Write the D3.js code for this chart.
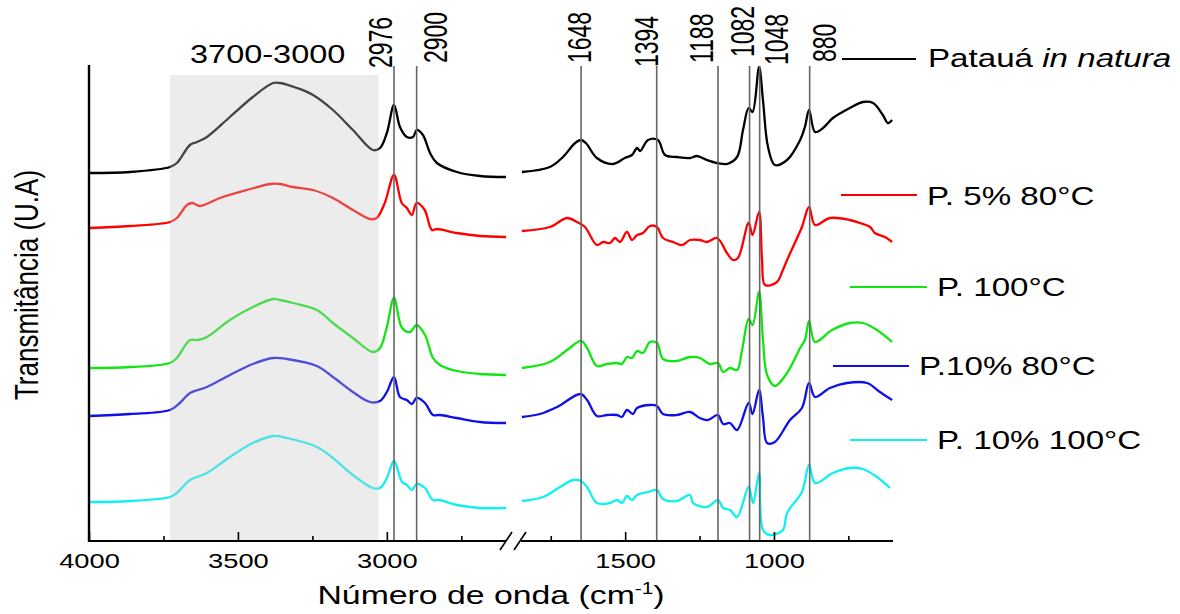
<!DOCTYPE html>
<html>
<head>
<meta charset="utf-8">
<script src="https://cdn.jsdelivr.net/npm/d3@7"></script>
<style>
body { margin: 0; background: #fff; }
text { font-family: "Liberation Sans", Arial, sans-serif; fill: #000; }
</style>
</head>
<body>
<svg id="ftir_svg"></svg>
<script>

// wavenumbers (cm-1) of the marked bands
var peaks = [2976, 2900, 1648, 1394, 1188, 1082, 1048, 880];
var oh_band = [3728, 3028];
var oh_band_label = '3700-3000';

var series_names = ['Patauá', 'P. 5% 80°C', 'P. 100°C', 'P.10% 80°C', 'P. 10% 100°C'];
var series_colors = ['#000000', '#ff0000', '#12e612', '#1010e6', '#10f0f0'];

var ticks_left = [4000, 3500, 3000];
var minor_left = [3750, 3250, 2750];
var ticks_right = [1500, 1000];
var minor_right = [1750, 1250, 750];

// [wavenumber, transmittance (arbitrary units, stacked)]
var pataua = [
  [4000,368],[3862,369],[3728,374],[3705,378],[3661,396],[3637,399],[3604,404],[3527,424],[3450,444],[3382,458],
  [3359,458],[3302,453],[3248,446],[3181,431],[3114,411],[3047,391],[3023,393],[3000,408],[2976,436],[2956,414],
  [2933,404],[2912,404],[2900,411],[2879,406],[2855,388],[2832,378],[2765,369],[2687,365],[2600,364],
  [1847,369],[1753,374],[1709,384],[1668,398],[1648,401],[1632,398],[1595,383],[1541,377],[1501,383],[1477,386],
  [1460,393],[1450,390],[1423,401],[1390,401],[1366,386],[1326,384],[1282,383],[1259,385],[1225,381],[1191,378],
  [1158,377],[1124,384],[1104,411],[1085,433],[1072,429],[1050,474],[1037,441],[1020,394],[997,376],[956,381],
  [912,401],[896,414],[882,431],[862,409],[835,413],[802,423],[745,433],[701,439],[667,438],[634,426],[617,418],[603,421]
];
var p5_80 = [
  [4000,313],[3862,315],[3728,319],[3705,323],[3671,336],[3654,338],[3627,335],[3560,343],[3470,351],[3392,357],
  [3359,357],[3315,354],[3248,351],[3181,343],[3114,331],[3057,322],[3034,323],[3007,338],[2976,366],[2950,338],
  [2933,333],[2916,326],[2900,338],[2873,331],[2849,311],[2832,312],[2765,308],[2687,305],[2600,304],
  [1847,310],[1753,314],[1695,323],[1662,319],[1635,314],[1595,296],[1574,299],[1551,298],[1534,303],[1517,299],
  [1494,309],[1477,301],[1460,306],[1440,308],[1417,315],[1393,314],[1373,303],[1339,299],[1309,296],[1282,301],
  [1249,301],[1225,299],[1191,303],[1158,288],[1138,281],[1121,283],[1085,318],[1072,306],[1050,329],[1040,281],
  [1030,256],[990,259],[970,271],[956,281],[936,294],[906,314],[882,334],[862,316],[812,323],[745,321],
  [711,318],[677,314],[661,308],[627,304],[603,299]
];
var p_100 = [
  [4000,173],[3862,174],[3728,178],[3705,183],[3661,201],[3634,201],[3604,204],[3527,221],[3450,234],[3382,242],
  [3359,241],[3315,238],[3235,231],[3181,218],[3114,203],[3047,189],[3023,193],[3000,214],[2976,243],[2949,213],
  [2922,209],[2900,216],[2872,206],[2845,183],[2822,176],[2765,170],[2687,167],[2600,166],
  [1847,173],[1753,179],[1695,191],[1648,200],[1628,193],[1595,175],[1561,177],[1527,178],[1511,177],[1494,184],
  [1477,183],[1460,190],[1440,188],[1417,199],[1393,198],[1373,182],[1326,180],[1282,184],[1249,183],[1215,177],
  [1188,178],[1171,169],[1148,173],[1124,171],[1107,191],[1085,222],[1072,216],[1050,249],[1037,201],[1023,166],
  [997,155],[956,168],[912,193],[896,201],[882,220],[862,199],[805,211],[745,218],[701,218],[654,211],[603,199]
];
var p10_80 = [
  [4000,125],[3862,127],[3728,131],[3695,138],[3661,148],[3604,154],[3527,166],[3450,177],[3382,183],[3335,182],
  [3235,175],[3181,164],[3114,149],[3057,139],[3023,140],[3000,149],[2976,164],[2956,144],[2933,141],[2916,137],
  [2900,143],[2872,138],[2845,126],[2822,126],[2765,123],[2687,119],[2600,118],
  [1847,124],[1786,127],[1729,134],[1650,147],[1628,141],[1595,125],[1561,126],[1527,126],[1511,124],[1494,131],
  [1474,127],[1460,133],[1417,136],[1393,135],[1373,127],[1326,126],[1282,129],[1249,123],[1222,121],[1188,126],
  [1171,117],[1148,118],[1124,111],[1085,138],[1072,127],[1050,151],[1037,124],[1023,98],[997,99],[946,121],
  [906,133],[882,158],[862,144],[812,153],[755,158],[687,158],[644,149],[603,141]
];
var p10_100 = [
  [4000,39],[3862,40],[3728,44],[3705,48],[3661,61],[3604,68],[3527,84],[3450,98],[3382,105],[3335,103],
  [3235,94],[3181,83],[3114,66],[3047,53],[3023,53],[3000,63],[2976,80],[2949,59],[2933,56],[2916,51],
  [2900,57],[2872,53],[2845,41],[2822,41],[2765,36],[2687,33],[2600,33],
  [1847,40],[1776,44],[1719,54],[1675,61],[1648,60],[1628,54],[1595,38],[1551,38],[1527,41],[1511,38],
  [1494,45],[1477,41],[1460,46],[1423,49],[1393,51],[1373,42],[1326,40],[1282,46],[1272,38],[1225,34],
  [1188,41],[1171,33],[1148,31],[1124,24],[1085,54],[1070,38],[1050,68],[1037,11],[1013,6],[970,11],
  [956,28],[906,49],[882,76],[862,58],[802,68],[745,73],[701,72],[654,64],[610,53]
];
var all_series = [pataua, p5_80, p_100, p10_80, p10_100];

var svg = d3.select('#ftir_svg')
  .attr('width', 1180)
  .attr('height', 614);

var x_left = d3.scaleLinear().domain([4000, 2600]).range([89, 506]);
var x_right = d3.scaleLinear().domain([1850, 600]).range([521, 893]);
var y = d3.scaleLinear().domain([0, 476]).range([541, 65]);

function xw(wn) {
  return wn > 2000 ? x_left(wn) : x_right(wn);
}

var line_left = d3.line()
  .x(function(d) { return x_left(d[0]); })
  .y(function(d) { return y(d[1]); })
  .curve(d3.curveCatmullRom.alpha(0.5));
var line_right = d3.line()
  .x(function(d) { return x_right(d[0]); })
  .y(function(d) { return y(d[1]); })
  .curve(d3.curveCatmullRom.alpha(0.5));

// spectra
all_series.forEach(function(s, i) {
  svg.append('path')
    .attr('d', line_left(s.filter(function(d) { return d[0] >= 2600; })))
    .style('fill', 'none')
    .style('stroke', series_colors[i])
    .style('stroke-width', 2.3);
  svg.append('path')
    .attr('d', line_right(s.filter(function(d) { return d[0] <= 1850; })))
    .style('fill', 'none')
    .style('stroke', series_colors[i])
    .style('stroke-width', 2.3);
});

// shaded O-H region, drawn over the curves
svg.append('rect')
  .attr('x', x_left(oh_band[0]))
  .attr('y', y(466))
  .attr('width', x_left(oh_band[1]) - x_left(oh_band[0]))
  .attr('height', y(0) - y(466))
  .style('fill', '#c8c8c8')
  .style('opacity', 0.34);

svg.append('text')
  .text(oh_band_label)
  .attr('text-anchor', 'middle')
  .attr('font-size', '25px')
  .attr('transform', 'translate(' + x_left(3400) + ',63) scale(1.3,1)');

// band lines + labels
var label_dx = [-2, 30, 10, 1, -5, 4, 28, 26];
var label_y = [68, 63, 63, 67, 63, 57, 65, 62];
peaks.forEach(function(p, i) {
  svg.append('line')
    .attr('x1', xw(p)).attr('x2', xw(p))
    .attr('y1', 66).attr('y2', y(0))
    .style('stroke', '#666')
    .style('stroke-width', 1.6);
  svg.append('text')
    .text(p)
    .attr('font-size', '23px')
    .attr('transform', 'translate(' + (xw(p) + label_dx[i]) + ',' + label_y[i] + ') scale(1.45,1) rotate(-90)');
});

// axes
function bottomAxis(scale, major, minor) {
  var g = svg.append('g')
    .attr('transform', 'translate(0,' + y(0) + ')');
  g.call(d3.axisBottom(scale).tickValues(major).tickSize(-9).tickPadding(12).tickFormat(d3.format('d')));
  g.call(function(a) { a.select('.domain').remove(); });
  var g2 = svg.append('g')
    .attr('transform', 'translate(0,' + y(0) + ')');
  g2.call(d3.axisBottom(scale).tickValues(minor).tickSize(-5).tickFormat(''));
  g2.select('.domain').remove();
  svg.selectAll('.tick line').style('stroke', '#000').style('stroke-width', 1.6);
  g.selectAll('text')
    .attr('font-size', '21px')
    .attr('font-family', '"Liberation Sans", Arial, sans-serif')
    .attr('transform', 'scale(1.3,1)');
}
bottomAxis(x_left, ticks_left, minor_left);
bottomAxis(x_right, ticks_right, minor_right);

svg.append('line')
  .attr('x1', x_left(4000)).attr('x2', x_left(2600))
  .attr('y1', y(0)).attr('y2', y(0))
  .style('stroke', '#000').style('stroke-width', 2);
svg.append('line')
  .attr('x1', x_right(1850)).attr('x2', x_right(600))
  .attr('y1', y(0)).attr('y2', y(0))
  .style('stroke', '#000').style('stroke-width', 2);
svg.append('line')
  .attr('x1', x_left(4000)).attr('x2', x_left(4000))
  .attr('y1', y(0) + 1).attr('y2', y(476))
  .style('stroke', '#000').style('stroke-width', 2.4);

// axis break
[0, 14].forEach(function(off) {
  svg.append('line')
    .attr('x1', 500 + off).attr('y1', 550)
    .attr('x2', 512 + off).attr('y2', 532)
    .style('stroke', '#000').style('stroke-width', 1.6);
});

// axis titles
var xt = svg.append('text')
  .attr('text-anchor', 'middle')
  .attr('font-size', '26px')
  .attr('transform', 'translate(491,604) scale(1.3,1)');
xt.append('tspan').text('Número de onda (cm');
xt.append('tspan').text('-1').attr('font-size', '16px').attr('dy', -10);
xt.append('tspan').text(')').attr('dy', 10);

svg.append('text')
  .text('Transmitância (U.A)')
  .attr('text-anchor', 'middle')
  .attr('font-size', '26px')
  .attr('transform', 'translate(38,285) scale(1.3,1) rotate(-90)');

// legend
var legend_rows = [
  {x1: 842, x2: 916, ly: 59, tx: 928, ty: 67},
  {x1: 841, x2: 917, ly: 195, tx: 927, ty: 205},
  {x1: 850, x2: 927, ly: 287, tx: 937, ty: 296},
  {x1: 833, x2: 909, ly: 366, tx: 919, ty: 375},
  {x1: 850, x2: 927, ly: 440, tx: 937, ty: 449}
];
legend_rows.forEach(function(r, i) {
  svg.append('line')
    .attr('x1', r.x1).attr('x2', r.x2)
    .attr('y1', r.ly).attr('y2', r.ly)
    .style('stroke', series_colors[i])
    .style('stroke-width', 2.2);
  var t = svg.append('text')
    .attr('font-size', '25.5px')
    .attr('transform', 'translate(' + r.tx + ',' + r.ty + ') scale(1.3,1)');
  t.append('tspan').text(series_names[i]);
  if (i == 0) {
    t.append('tspan').text(' in natura').style('font-style', 'italic');
  }
});
</script>
</body>
</html>
